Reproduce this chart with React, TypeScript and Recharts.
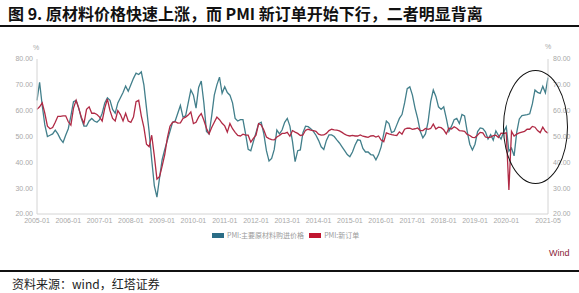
import { LineChart, Line, XAxis, YAxis } from 'recharts'

// monthly, 2005-01 .. 2021-05
const startYear = 2005

// PMI:主要原材料购进价格
const priceIndex = [
  64, 71, 62, 54.5, 50, 50.5, 51, 52.5, 51, 49, 47.7, 50.5, // 2005
  53, 58, 63.5, 64, 61, 57, 54, 54, 56, 57, 56, 55.5, // 2006
  56.5, 59, 63, 65, 64, 60.5, 59, 63, 65, 67, 69.5, 67.5, // 2007
  70, 72.5, 74.5, 74, 75, 70, 61, 52, 41, 31, 26.5, 34, // 2008
  41, 45, 48.5, 52, 55.5, 56, 59, 62, 57.5, 58, 63, 68, // 2009
  66, 61, 69, 71.5, 63, 52, 51, 58, 66, 70, 73, 66.7, // 2010
  69.3, 67, 66, 63, 57, 56, 56.5, 56.5, 51, 45, 44.5, 48, // 2011
  51.5, 55, 55.5, 51, 44.5, 40.5, 41.5, 45, 52.5, 51, 52.5, 55.5, // 2012
  57, 54, 48, 40.3, 44.5, 44.8, 51.5, 54, 53.8, 53, 52, 50.5, // 2013
  48.5, 46, 45, 48.5, 50.6, 50.6, 50, 48.7, 47.5, 46, 44.5, 43, // 2014
  42.2, 44, 46.7, 48.7, 48.5, 45.4, 44, 44, 43, 42.8, 41, 43, // 2015
  46, 51, 56, 55, 51.5, 52, 54.5, 57, 58.5, 63, 68.5, 69.2, // 2016
  66, 61, 57, 52, 49.5, 51, 55.7, 63.5, 68, 65.5, 61.5, 60.5, // 2017
  61.5, 57, 52, 54, 56.5, 57, 55, 58.5, 58, 52, 47, 44.8, // 2018
  47, 51.9, 53.3, 53.1, 51.8, 49, 50.7, 48.6, 52.2, 50.4, 49, 51.8, // 2019
  53.8, 44.3, 45.5, 42.5, 51.6, 56.8, 58.1, 58.3, 58.5, 58.8, 62.6, 68, // 2020
  67.1, 66.7, 69.4, 66.9, 72.8, // 2021
]

// PMI:新订单
const newOrders = [
  60.5, 61.5, 63, 59, 54, 53, 53.5, 55.5, 57.8, 57.8, 58, 58, // 2005
  55.7, 54.4, 61, 64, 61, 57.5, 55, 60.5, 61.5, 59, 59, 58.5, // 2006
  57.5, 56, 61, 64.5, 60, 57, 56, 60, 58.5, 56, 59, 56, // 2007
  55.5, 57.5, 63.5, 64, 58, 53.5, 47, 46, 50.5, 42.5, 33.5, 34.5, // 2008
  38.5, 43, 49.5, 54, 55.5, 55.7, 55.2, 55.3, 57, 57.5, 58.3, 59.5, // 2009
  55, 55.5, 57.6, 58.9, 56.3, 53.2, 51, 53.5, 55.5, 57.5, 56.5, 55.1, // 2010
  54.1, 51.7, 55, 53, 51.6, 50.4, 50.2, 50.9, 50.5, 50.5, 47.8, 49.3, // 2011
  50.5, 55, 54.5, 52.5, 49.8, 49.2, 48.8, 48.7, 49.8, 50.4, 51.2, 51.2, // 2012
  51.6, 50.1, 52.3, 51.7, 51.2, 50.4, 50.6, 52.4, 52.8, 52.5, 52.3, 52, // 2013
  50.9, 50.5, 50.6, 51.2, 52.3, 52.8, 52.6, 52.5, 52.2, 51.6, 50.9, 50.4, // 2014
  50.2, 50.4, 50.2, 50.2, 50.6, 50.1, 49.9, 49.7, 50.2, 50.3, 49.8, 50.2, // 2015
  48.6, 48, 51.4, 51, 50.7, 50.5, 50.4, 51.8, 50.9, 52.8, 53.2, 53.2, // 2016
  52.8, 53, 53.3, 52.3, 52.3, 53.1, 52.8, 53.1, 54.8, 52.9, 53.6, 53.4, // 2017
  52.6, 51, 53.3, 52.9, 53.8, 53.2, 52.3, 52.2, 52, 50.8, 50.4, 49.7, // 2018
  49.6, 50.6, 51.6, 51.4, 49.8, 49.6, 49.8, 50.3, 50.5, 49.6, 51.3, 51.2, // 2019
  51.4, 29.3, 52, 50.2, 50.9, 51.4, 51.7, 52, 52.8, 52.8, 53.9, 53.6, // 2020
  52.3, 51.5, 53.6, 52, 51.3, // 2021
]

const xTicks = [
  '2005-01', '2006-01', '2007-01', '2008-01', '2009-01', '2010-01',
  '2011-01', '2012-01', '2013-01', '2014-01', '2015-01', '2016-01',
  '2017-01', '2018-01', '2019-01', '2020-01', '2021-05',
]
const yTicks = [20, 30, 40, 50, 60, 70, 80]

const months = priceIndex.map(
  (_, i) => `${startYear + Math.floor(i / 12)}-${String((i % 12) + 1).padStart(2, '0')}`
)
const data = months.map((m, i) => ({ month: m, price: priceIndex[i], orders: newOrders[i] }))

const tealLine = '#427f8b'
const redLine = '#b02a45'
const axisGray = '#d4d4d4'
const tickStyle = { fontSize: 7, fill: '#a8a8a8', fontFamily: 'Liberation Sans, Arial, sans-serif' }
const cjk = '"Noto Sans CJK SC", sans-serif'

export default function App() {
  return (
    <div style={{ position: 'absolute', left: 0, top: 0, width: 579, height: 293, background: '#fff', overflow: 'hidden' }}>
      <div style={{ position: 'absolute', left: 8, top: 3, fontFamily: cjk, fontWeight: 700, fontSize: 16, color: '#111', whiteSpace: 'nowrap', lineHeight: '20px' }}>
        图 9. 原材料价格快速上涨，而 PMI 新订单开始下行，二者明显背离
      </div>
      <div style={{ position: 'absolute', left: 0, top: 25, width: 579, height: 1.5, background: '#111' }} />

      <LineChart
        width={579}
        height={293}
        data={data}
        margin={{ top: 59, right: 0, bottom: 0, left: 0 }}
        style={{ position: 'absolute', left: 0, top: 0 }}
      >
        <XAxis
          dataKey="month"
          ticks={xTicks}
          interval={0}
          height={79}
          tickSize={0}
          tickMargin={4}
          tick={tickStyle}
          axisLine={{ stroke: axisGray }}
        />
        <YAxis
          yAxisId="left"
          domain={[20, 80]}
          ticks={yTicks}
          width={37}
          tickSize={0}
          tickMargin={4}
          tick={tickStyle}
          tickFormatter={(v: number) => v.toFixed(2)}
          axisLine={{ stroke: axisGray }}
        />
        <YAxis
          yAxisId="right"
          orientation="right"
          domain={[20, 80]}
          ticks={yTicks}
          width={31}
          tickSize={0}
          tickMargin={5}
          tick={tickStyle}
          tickFormatter={(v: number) => v.toFixed(2)}
          axisLine={{ stroke: axisGray }}
        />
        <Line yAxisId="left" dataKey="price" stroke={tealLine} strokeWidth={1.3} dot={false} isAnimationActive={false} />
        <Line yAxisId="right" dataKey="orders" stroke={redLine} strokeWidth={1.3} dot={false} isAnimationActive={false} />
      </LineChart>

      <div style={{ position: 'absolute', left: 33, top: 44, fontSize: 7, color: '#a8a8a8', fontFamily: 'Liberation Sans, sans-serif' }}>%</div>
      <div style={{ position: 'absolute', left: 545, top: 43, fontSize: 7, color: '#a8a8a8', fontFamily: 'Liberation Sans, sans-serif' }}>%</div>

      <div style={{ position: 'absolute', left: 503, top: 70, width: 63, height: 112, border: '1.5px solid #111', borderRadius: '50%' }} />

      <div style={{ position: 'absolute', left: 212, top: 229, display: 'flex', alignItems: 'center', fontSize: 7, color: '#9a9a9a', fontFamily: cjk, whiteSpace: 'nowrap', lineHeight: '12px' }}>
        <span style={{ display: 'inline-block', width: 12, height: 5, background: '#2b6d86', marginRight: 3 }} />
        <span>PMI:主要原材料购进价格</span>
        <span style={{ display: 'inline-block', width: 12, height: 5, background: '#c0152f', marginLeft: 5, marginRight: 3 }} />
        <span>PMI:新订单</span>
      </div>

      <div style={{ position: 'absolute', left: 549, top: 248, fontSize: 9, color: '#8a2438', fontFamily: 'Liberation Sans, sans-serif' }}>Wind</div>

      <div style={{ position: 'absolute', left: 0, top: 270, width: 579, height: 2, background: '#111' }} />
      <div style={{ position: 'absolute', left: 12, top: 276, fontFamily: cjk, fontSize: 12, color: '#222', whiteSpace: 'nowrap', lineHeight: '16px' }}>
        资料来源：wind，红塔证券
      </div>
    </div>
  )
}
